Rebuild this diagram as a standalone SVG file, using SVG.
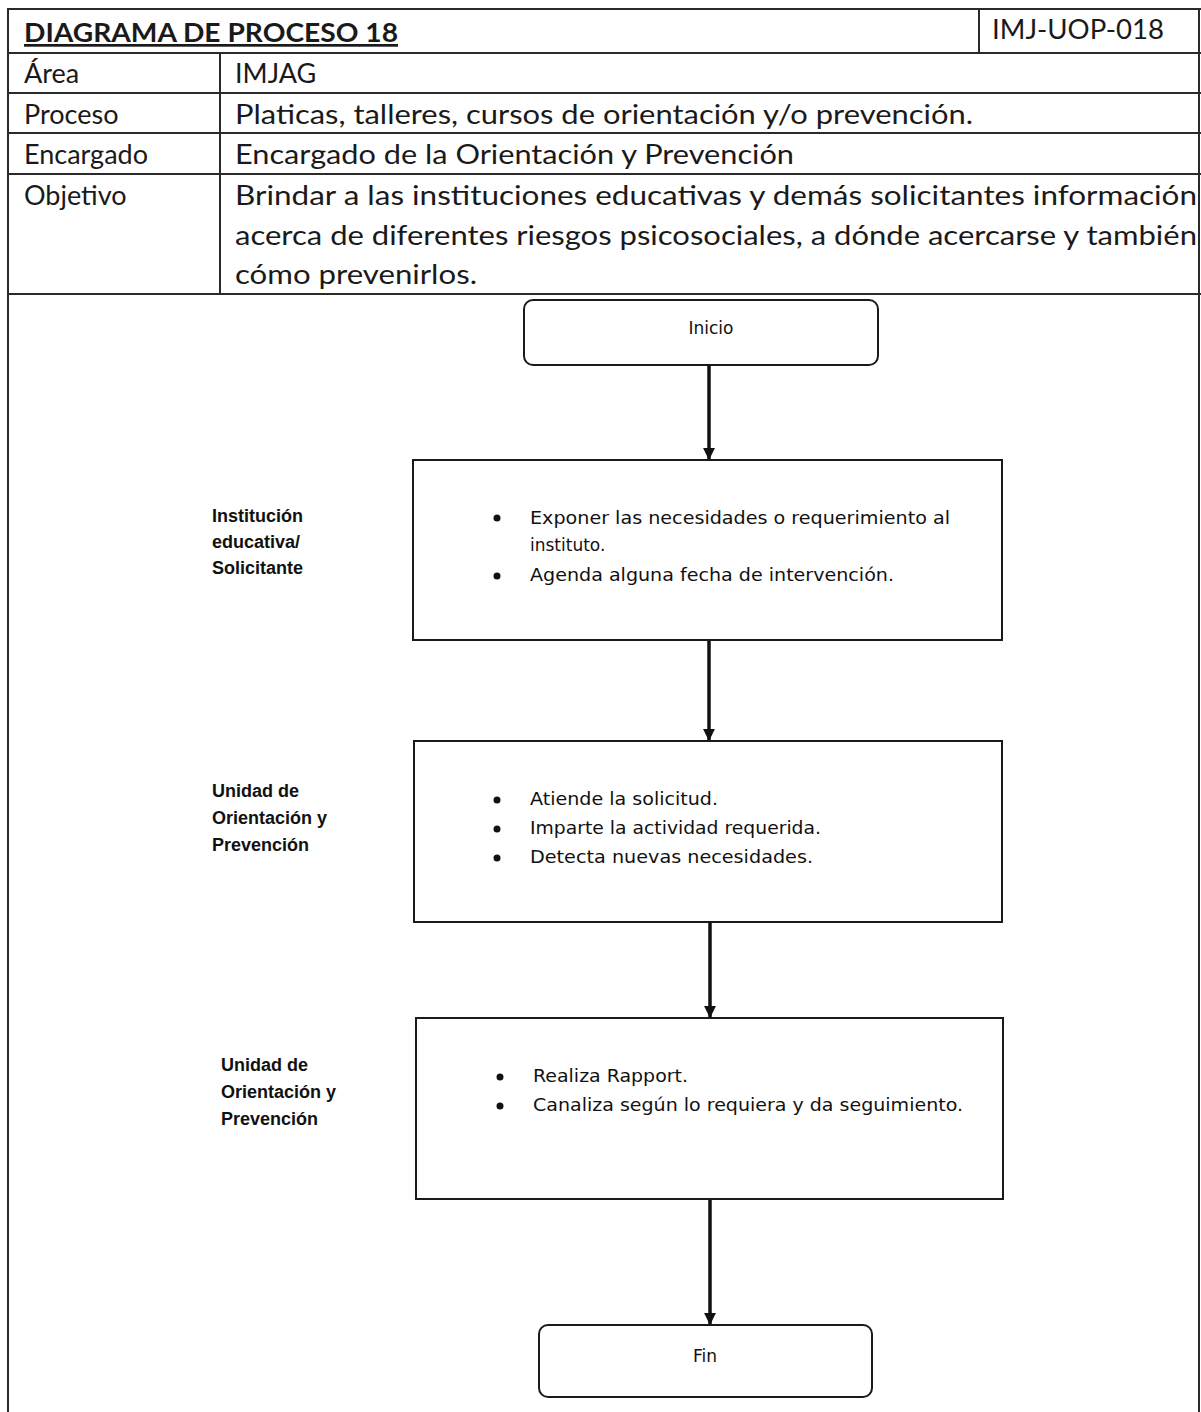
<svg xmlns="http://www.w3.org/2000/svg" width="1201" height="1412" viewBox="0 0 1201 1412">
<style>
.tl{stroke:#2a2a2a;stroke-width:2;fill:none}
.hd{font-family:Lato,"Open Sans","Noto Sans",sans-serif;font-size:27px;fill:#1a1a1a}
.box{fill:#fff;stroke:#1a1a1a;stroke-width:2}
.ft{font-family:"DejaVu Sans","Liberation Sans",sans-serif;font-size:17px;fill:#111}
.lb{font-family:"Liberation Sans",Arial,sans-serif;font-size:18px;font-weight:bold;fill:#111}
.cn{stroke:#111;stroke-width:3.5;fill:none}
.bl{fill:#111}
</style>
<defs>
<marker id="ah" viewBox="0 0 10 10" refX="10" refY="5" markerWidth="3.6" markerHeight="3.4" orient="auto" markerUnits="strokeWidth">
<path d="M0,0 L10,5 L0,10 z" fill="#111"/>
</marker>
</defs>
<rect width="1201" height="1412" fill="#fff"/>
<g id="table">
<line class="tl" x1="7" y1="9" x2="1201" y2="9"/>
<line class="tl" x1="7" y1="53" x2="1201" y2="53"/>
<line class="tl" x1="7" y1="93" x2="1201" y2="93"/>
<line class="tl" x1="7" y1="133" x2="1201" y2="133"/>
<line class="tl" x1="7" y1="174" x2="1201" y2="174"/>
<line class="tl" x1="7" y1="294" x2="1201" y2="294"/>
<line class="tl" x1="8" y1="9" x2="8" y2="1412"/>
<line class="tl" x1="1199" y1="9" x2="1199" y2="1412"/>
<line class="tl" x1="220" y1="53" x2="220" y2="294"/>
<line class="tl" x1="979" y1="9" x2="979" y2="53"/>
<text class="hd" x="24" y="42" font-weight="bold" text-decoration="underline" font-size="26" textLength="374" lengthAdjust="spacingAndGlyphs">DIAGRAMA DE PROCESO 18</text>
<text class="hd" x="992" y="39" font-size="26" textLength="172" lengthAdjust="spacingAndGlyphs">IMJ-UOP-018</text>
<text class="hd" x="24" y="83">Área</text>
<text class="hd" x="235" y="83">IMJAG</text>
<text class="hd" x="24" y="124">Proceso</text>
<text class="hd" x="235" y="124" textLength="738" lengthAdjust="spacingAndGlyphs">Platicas, talleres, cursos de orientación y/o prevención.</text>
<text class="hd" x="24" y="164">Encargado</text>
<text class="hd" x="235" y="164" textLength="559" lengthAdjust="spacingAndGlyphs">Encargado de la Orientación y Prevención</text>
<text class="hd" x="24" y="205">Objetivo</text>
<text class="hd" x="235" y="205" textLength="962" lengthAdjust="spacingAndGlyphs">Brindar a las instituciones educativas y demás solicitantes información</text>
<text class="hd" x="235" y="245" textLength="962" lengthAdjust="spacingAndGlyphs">acerca de diferentes riesgos psicosociales, a dónde acercarse y también</text>
<text class="hd" x="235" y="284" textLength="242" lengthAdjust="spacingAndGlyphs">cómo prevenirlos.</text>
</g>
<g id="connectors">
<line class="cn" x1="709" y1="365" x2="709" y2="460" marker-end="url(#ah)"/>
<line class="cn" x1="709" y1="640" x2="709" y2="741" marker-end="url(#ah)"/>
<line class="cn" x1="710" y1="922" x2="710" y2="1018" marker-end="url(#ah)"/>
<line class="cn" x1="710" y1="1199" x2="710" y2="1325" marker-end="url(#ah)"/>
</g>
<g id="inicio">
<rect class="box" x="524" y="300" width="354" height="65" rx="9"/>
<text class="ft" x="711" y="334" text-anchor="middle">Inicio</text>
</g>
<g id="step1">
<rect class="box" x="413" y="460" width="589" height="180"/>
<text class="lb" x="212" y="522">Institución</text>
<text class="lb" x="212" y="548">educativa/</text>
<text class="lb" x="212" y="574">Solicitante</text>
<circle class="bl" cx="497" cy="518" r="3.5"/>
<text class="ft" x="530" y="524" textLength="420" lengthAdjust="spacingAndGlyphs">Exponer las necesidades o requerimiento al</text>
<text class="ft" x="530" y="551">instituto.</text>
<circle class="bl" cx="497" cy="576" r="3.5"/>
<text class="ft" x="530" y="581" textLength="364" lengthAdjust="spacingAndGlyphs">Agenda alguna fecha de intervención.</text>
</g>
<g id="step2">
<rect class="box" x="414" y="741" width="588" height="181"/>
<text class="lb" x="212" y="797">Unidad de</text>
<text class="lb" x="212" y="824">Orientación y</text>
<text class="lb" x="212" y="851">Prevención</text>
<circle class="bl" cx="497" cy="800" r="3.5"/>
<text class="ft" x="530" y="805" textLength="188" lengthAdjust="spacingAndGlyphs">Atiende la solicitud.</text>
<circle class="bl" cx="497" cy="829" r="3.5"/>
<text class="ft" x="530" y="834" textLength="291" lengthAdjust="spacingAndGlyphs">Imparte la actividad requerida.</text>
<circle class="bl" cx="497" cy="858" r="3.5"/>
<text class="ft" x="530" y="863" textLength="283" lengthAdjust="spacingAndGlyphs">Detecta nuevas necesidades.</text>
</g>
<g id="step3">
<rect class="box" x="416" y="1018" width="587" height="181"/>
<text class="lb" x="221" y="1071">Unidad de</text>
<text class="lb" x="221" y="1098">Orientación y</text>
<text class="lb" x="221" y="1125">Prevención</text>
<circle class="bl" cx="500" cy="1077" r="3.5"/>
<text class="ft" x="533" y="1082" textLength="155" lengthAdjust="spacingAndGlyphs">Realiza Rapport.</text>
<circle class="bl" cx="500" cy="1106" r="3.5"/>
<text class="ft" x="533" y="1111" textLength="430" lengthAdjust="spacingAndGlyphs">Canaliza según lo requiera y da seguimiento.</text>
</g>
<g id="fin">
<rect class="box" x="539" y="1325" width="333" height="72" rx="9"/>
<text class="ft" x="705" y="1362" text-anchor="middle">Fin</text>
</g>
</svg>
